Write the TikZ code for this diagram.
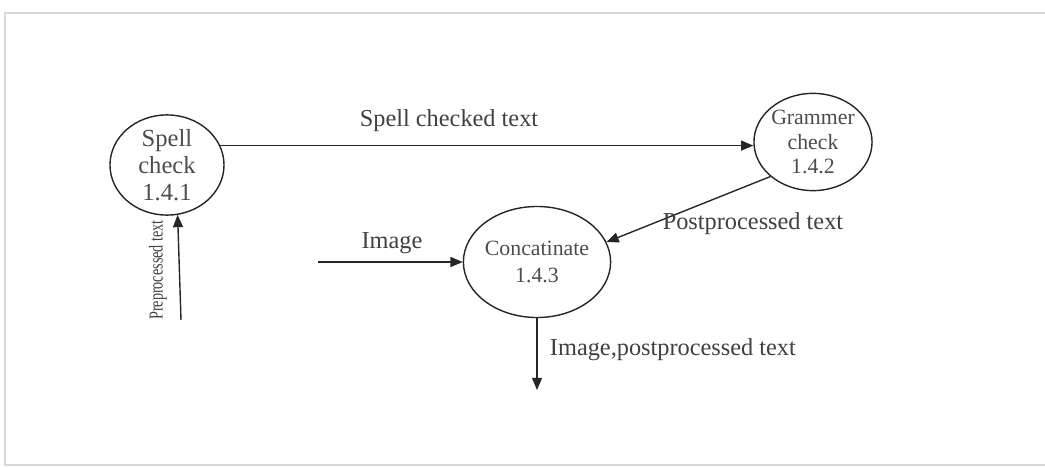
\documentclass[tikz,border=0pt]{standalone}
\usepackage{fontspec}
\setmainfont{Liberation Serif}
\usetikzlibrary{arrows,shapes.geometric}

\tikzset{
  proc/.style={ellipse, draw=black!85, line width=1pt, align=center, inner sep=0pt, text=black!70},
  flow/.style={->, >=triangle 45, line width=1pt, black!85},
  flowlabel/.style={text=black!75, font=\fontsize{17.3}{20}\selectfont}
}

\begin{document}
\begin{tikzpicture}[x=0.025cm, y=-0.025cm]
            \useasboundingbox (0, 0) rectangle (1045, 467);
            \draw[line width=1.5pt, black!15] (1060, 13) -- (5, 13) -- (5, 465) -- (1060, 465);

            \node[proc, minimum width=2.85cm, minimum height=2.5cm, font=\fontsize{17.5}{19}\selectfont]
                (spell) at (167, 165) {Spell\\check\\1.4.1};
            \node[proc, minimum width=2.83cm, minimum height=2.43cm, font=\fontsize{15.5}{17.5}\selectfont]
                (grammer) at (813, 142) {Grammer\\check\\1.4.2};
            \node[proc, minimum width=3.375cm, minimum height=2.775cm, font=\fontsize{15.5}{19.5}\selectfont]
                (concat) at (537, 262) {Concatinate\\1.4.3};

            \coordinate (imgin) at (318, 262);
            \coordinate (prein) at (181, 320);
            \coordinate (out) at (537, 390);

            \draw[flow] (spell.20) -- (spell.20 -| grammer.west);
            \draw[flow] (grammer.219) -- (concat.16);
            \draw[flow] (imgin) -- (concat.west);
            \draw[flow] (prein) -- (spell.282);
            \draw[flow] (concat.south) -- (out);

            \node[flowlabel] (lspell) at (449, 121) {Spell checked text};
            \node[flowlabel] (lpost) at (753, 224) {Postprocessed text};
            \node[flowlabel] (limg) at (392, 243) {Image};
            \node[flowlabel, anchor=west] (lout) at (545, 350) {Image,postprocessed text};
            \node[text=black!75, rotate=90, font=\fontsize{14}{16}\selectfont, xscale=0.72]
                (lpre) at (158, 270) {Preprocessed text};
\end{tikzpicture}
\end{document}
